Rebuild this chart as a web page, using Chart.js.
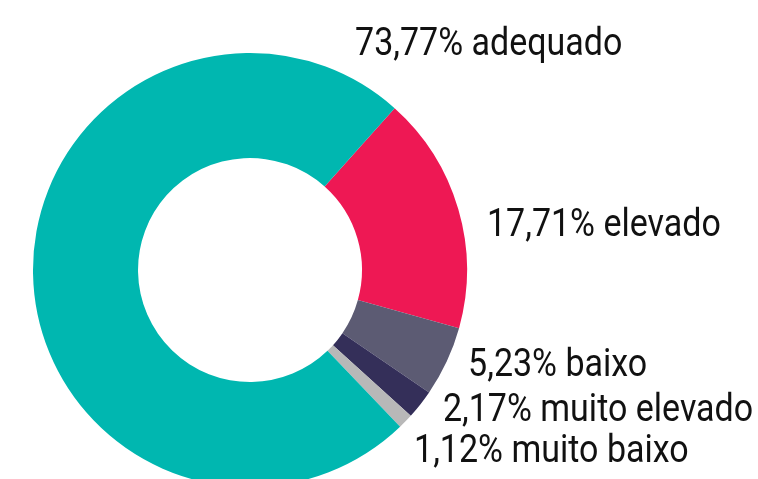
<!DOCTYPE html>
<html>
<head>
<meta charset="utf-8">
<script src="https://cdn.jsdelivr.net/npm/chart.js@4"></script>
<style>
  html, body { margin: 0; padding: 0; background: #fff; overflow: hidden; }
  #wrap { position: absolute; left: 0; top: 0; width: 758px; height: 540px; }
</style>
</head>
<body>
<div id="wrap"><canvas id="donut"></canvas></div>
<script>
// ---------------- DATA ----------------
const categories = ["elevado", "baixo", "muito elevado", "muito baixo", "adequado"];
const percents = [17.71, 5.23, 2.17, 1.12, 73.77];
const colors = ["#ee1854", "#5c5b73", "#342f59", "#b8b8b8", "#00b7b0"];

// label anchors, relative to the donut centre, in units of outer radius
const labelSpots = [
    { dx: 1.092, dy: -0.157 },  // elevado
    { dx: 1.005, dy: 0.488 },   // baixo
    { dx: 0.889, dy: 0.696 },   // muito elevado
    { dx: 0.756, dy: 0.885 },   // muito baixo
    { dx: 0.484, dy: -0.991 }   // adequado
];

function fmt(v) {
    return v.toFixed(2).replace(".", ",") + "%";
}

// ---------------- LABELS ----------------
const outsideLabels = {
    id: "outsideLabels",
    afterDraw(chart) {
        const ctx = chart.ctx;
        const arc = chart.getDatasetMeta(0).data[0];
        const cx = arc.x, cy = arc.y, r = arc.outerRadius;
        const squeeze = 0.895;

        ctx.save();
        ctx.font = "38px Roboto";
        ctx.fillStyle = "#111";
        ctx.textBaseline = "alphabetic";
        ctx.textAlign = "left";

        categories.forEach((c, i) => {
            const x = cx + labelSpots[i].dx * r;
            const y = cy + labelSpots[i].dy * r;
            ctx.save();
            ctx.translate(x, y);
            ctx.scale(squeeze, 1);
            ctx.fillText(fmt(percents[i]) + " " + c, 0, 0);
            ctx.restore();
        });
        ctx.restore();
    }
};

// ---------------- CHART ----------------
new Chart(document.getElementById("donut"), {
    type: "doughnut",
    data: {
        labels: categories,
        datasets: [{
            data: percents,
            backgroundColor: colors,
            borderWidth: 0
        }]
    },
    options: {
        responsive: true,
        maintainAspectRatio: false,
        animation: false,
        rotation: 41.8,
        cutout: "51.6%",
        layout: { padding: { top: 53, left: 33, right: 291, bottom: 53 } },
        plugins: {
            legend: { display: false },
            tooltip: { enabled: false }
        }
    },
    plugins: [outsideLabels]
});
</script>
</body>
</html>
